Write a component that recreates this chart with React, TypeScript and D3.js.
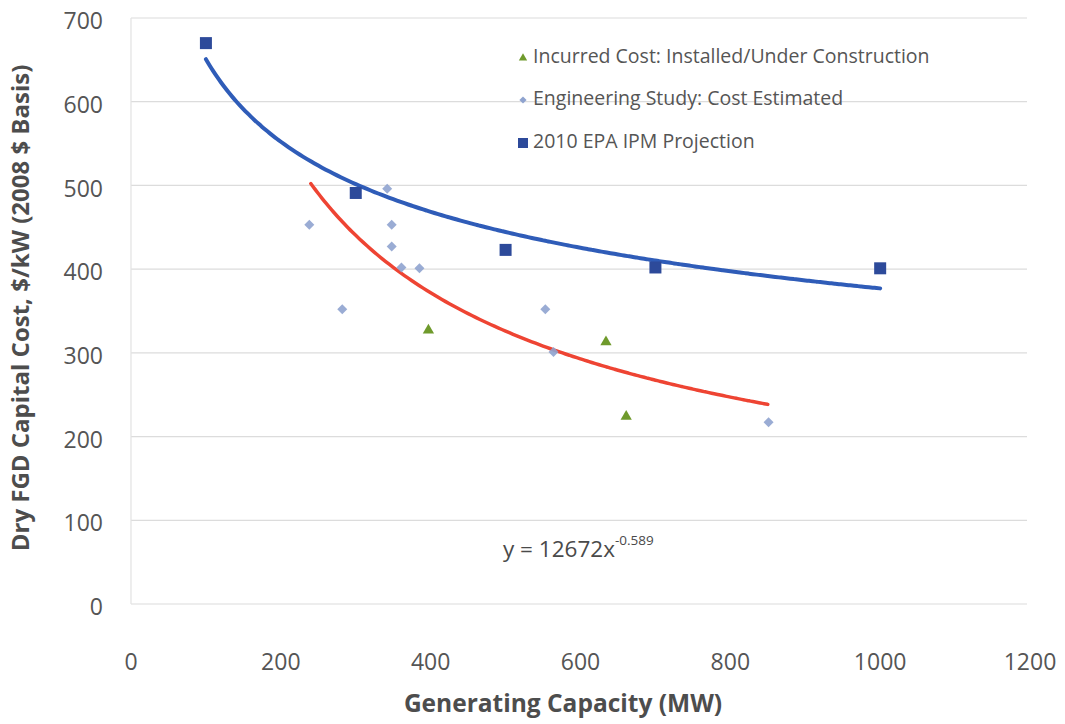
import React from "react";
import * as d3 from "d3";

// Incurred cost: installed / under construction (MW, $/kW)
const incurredMW = [397, 634, 661];
const incurredCost = [327, 313, 224];

// Engineering study: cost estimated
const studyMW = [238, 282, 342, 348, 348, 361, 385, 553, 564, 851];
const studyCost = [453, 352, 496, 453, 427, 402, 401, 352, 301, 217];

// 2010 EPA IPM projection
const ipmMW = [100, 300, 500, 700, 1000];
const ipmCost = [670, 491, 423, 402, 401];

// Power-law trendline quoted on the chart: y = 12672 x^-0.589
const fitCoef = 12672;
const fitExp = -0.589;
const fitRange = [240, 850];

const xTicks = [0, 200, 400, 600, 800, 1000, 1200];
const yTicks = [0, 100, 200, 300, 400, 500, 600, 700];

const legendLabels = [
  "Incurred Cost: Installed/Under Construction",
  "Engineering Study: Cost Estimated",
  "2010 EPA IPM Projection",
];

const W = 1065;
const H = 724;
const M = { left: 131, right: 35, top: 18, bottom: 120 };

// Least-squares power fit (log-log) for the IPM series
function powerFit(xs: number[], ys: number[]) {
  const lx = xs.map(Math.log);
  const ly = ys.map(Math.log);
  const mx = d3.mean(lx)!;
  const my = d3.mean(ly)!;
  let sxy = 0;
  let sxx = 0;
  lx.forEach((v, i) => {
    sxy += (v - mx) * (ly[i] - my);
    sxx += (v - mx) * (v - mx);
  });
  const b = sxy / sxx;
  const a = Math.exp(my - b * mx);
  return (x: number) => a * Math.pow(x, b);
}

export default function App() {
  const x = d3.scaleLinear().domain([0, 1200]).range([M.left, W - M.right]);
  const y = d3.scaleLinear().domain([0, 700]).range([H - M.bottom, M.top]);

  const ipmFit = powerFit(ipmMW, ipmCost);
  const ipmCurve = d3.range(100, 1000.1, 5).map((v) => [v, ipmFit(v)] as [number, number]);
  const studyCurve = d3
    .range(fitRange[0], fitRange[1] + 0.1, 5)
    .map((v) => [v, fitCoef * Math.pow(v, fitExp)] as [number, number]);

  const line = d3
    .line<[number, number]>()
    .x((d) => x(d[0]))
    .y((d) => y(d[1]))
    .curve(d3.curveMonotoneX);

  const tri = d3.symbol().type(d3.symbolTriangle).size(55)()!;
  // diamond drawn as a square turned 45 degrees
  const dia = d3.symbol().type(d3.symbolSquare).size(50)()!;

  const font = "'Open Sans', sans-serif";
  const textCol = "#555555";
  const legendX = 523;
  const legendY = [58, 100, 143];

  return (
    <svg
      width={W}
      height={H}
      style={{ position: "absolute", left: 0, top: 0, background: "#fff" }}
      fontFamily={font}
    >
      {/* gridlines */}
      {yTicks.map((t) => (
        <line
          key={"g" + t}
          x1={x(0)}
          x2={x(1200) - 3}
          y1={y(t)}
          y2={y(t)}
          stroke="#dcdcdc"
          strokeWidth={1.2}
        />
      ))}
      <line x1={x(0)} x2={x(0)} y1={y(0)} y2={y(700)} stroke="#e2e2e2" strokeWidth={1.2} />

      {/* y tick labels */}
      {yTicks.map((t) => (
        <text
          key={"yl" + t}
          x={103}
          y={y(t) + 5}
          textAnchor="end"
          dominantBaseline="middle"
          fontSize={23}
          fill={textCol}
        >
          {t}
        </text>
      ))}
      {/* x tick labels */}
      {xTicks.map((t) => (
        <text
          key={"xl" + t}
          x={x(t)}
          y={664}
          textAnchor="middle"
          dominantBaseline="middle"
          fontSize={23}
          fill={textCol}
        >
          {t}
        </text>
      ))}

      {/* axis titles */}
      <text
        x={563}
        y={705}
        textAnchor="middle"
        dominantBaseline="middle"
        fontSize={24.5}
        fontWeight="bold"
        fill="#4d4d4d"
      >
        Generating Capacity (MW)
      </text>
      <text
        transform={`translate(23, ${308}) rotate(-90)`}
        textAnchor="middle"
        dominantBaseline="middle"
        fontSize={24}
        fontWeight="bold"
        fill="#4d4d4d"
      >
        Dry FGD Capital Cost, $/kW (2008 $ Basis)
      </text>

      {/* trendlines */}
      <path d={line(ipmCurve)!} fill="none" stroke="#2f5cb8" strokeWidth={4} strokeLinecap="round" />
      <path d={line(studyCurve)!} fill="none" stroke="#ee4433" strokeWidth={3.5} strokeLinecap="round" />

      {/* engineering study points */}
      {studyMW.map((m, i) => (
        <path
          key={"s" + i}
          d={dia}
          transform={`translate(${x(m)},${y(studyCost[i])}) rotate(45)`}
          fill="#8fa3cf"
          opacity={0.9}
        />
      ))}
      {/* incurred cost points */}
      {incurredMW.map((m, i) => (
        <path
          key={"i" + i}
          d={tri}
          transform={`translate(${x(m)},${y(incurredCost[i])})`}
          fill="#6f9a2c"
        />
      ))}
      {/* IPM projection points */}
      {ipmMW.map((m, i) => (
        <rect
          key={"p" + i}
          x={x(m) - 6}
          y={y(ipmCost[i]) - 6}
          width={12}
          height={12}
          fill="#2d4a9a"
        />
      ))}

      {/* equation */}
      <text x={503} y={557} fontSize={22.5} fill="#4a4a4a">
        y = 12672x
        <tspan dy={-12} fontSize={13.5}>
          -0.589
        </tspan>
      </text>

      {/* legend */}
      <path d={d3.symbol().type(d3.symbolTriangle).size(30)()!} transform={`translate(${legendX},${legendY[0]})`} fill="#6f9a2c" />
      <path d={d3.symbol().type(d3.symbolSquare).size(26)()!} transform={`translate(${legendX},${legendY[1]}) rotate(45)`} fill="#8fa3cf" />
      <rect x={legendX - 5} y={legendY[2] - 5} width={10} height={10} fill="#2d4a9a" />
      {legendLabels.map((l, i) => (
        <text
          key={"lg" + i}
          x={legendX + 10}
          y={legendY[i]}
          dominantBaseline="middle"
          fontSize={19.5}
          fill={textCol}
        >
          {l}
        </text>
      ))}
    </svg>
  );
}
